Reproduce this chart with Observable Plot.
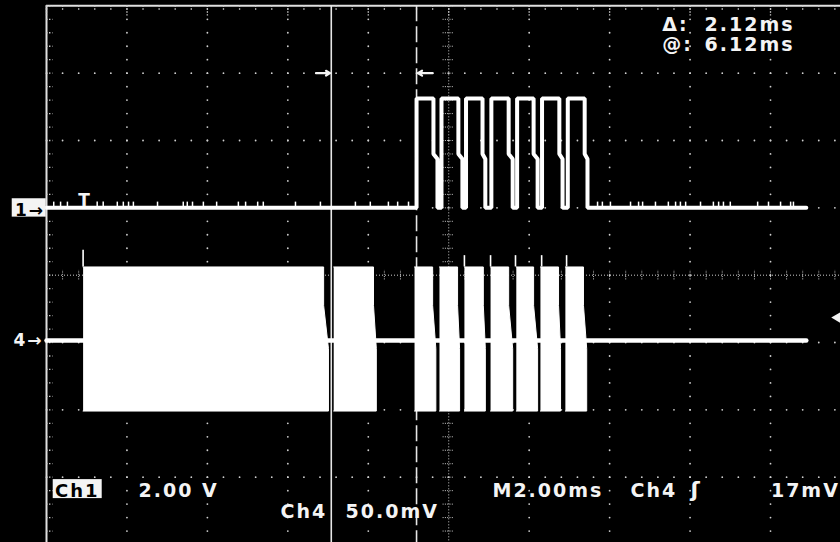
<!DOCTYPE html>
<html><head><meta charset="utf-8">
<script src="https://cdn.jsdelivr.net/npm/d3@7"></script>
<script src="https://cdn.jsdelivr.net/npm/@observablehq/plot@0.6"></script>
<style>
html,body{margin:0;padding:0;background:#000;}
#chart svg text{letter-spacing:2px;}
</style></head><body><div id="chart"></div>
<script>
// ---- scope settings (from the on-screen readouts) ----
const ch1VoltsPerDiv = 2;        // "Ch1 2.00 V"
const ch4MilliVoltsPerDiv = 50;  // "Ch4 50.0mV"
const timePerDiv = 2;            // "M2.00ms"
const ch1OffsetDiv = 1;          // ground marker "1→"
const ch4OffsetDiv = -0.97;      // ground marker "4→"
const triggerLevel = 17;         // mV, "Ch4 ʃ 17mV"
const screenStart = -0.96;       // ms, left edge of screen relative to trigger
const screenEnd = 18.78;         // ms, right edge of the picture
const recordEnd = 17.93;         // ms, end of captured record

// ---- cursors ----
const cursorA = 6.12;            // "@: 6.12ms"
const cursorDelta = 2.12;        // "Δ: 2.12ms"

// ---- Ch1: digital pulses (ms, V) ----
const ch1Rise       = [8.24, 8.86, 9.47, 10.10, 10.74, 11.36, 12.00];
const ch1FallTop    = [8.66, 9.28, 9.88, 10.53, 11.15, 11.79, 12.42];
const ch1FallBottom = [8.76, 9.38, 9.95, 10.63, 11.25, 11.87, 12.49];
const ch1High = 3.25;
const ch1KneeHigh = 1.6;
const ch1KneeLow = 1.45;
// small noise ticks on the Ch1 low level (ms)
const ch1Glitches = [-0.78, -0.61, -0.44, 0.30, 0.45, 0.80, 0.95, 1.08, 1.20, 1.80, 2.44, 2.54, 2.67,
  2.94, 3.27, 3.81, 3.99, 4.29, 4.43, 5.23, 5.85, 6.72, 7.09, 7.54, 7.77, 8.04,
  12.74, 12.86, 13.06, 13.56, 13.76, 13.86, 14.18, 14.50, 14.68, 14.80, 14.93, 15.30, 15.62,
  15.75, 15.87, 16.04, 16.72, 16.99, 17.29, 17.54, 17.61];
const ch1GlitchHeight = 0.17;    // V

// ---- Ch4: RF bursts (ms, mV) ----
const ch4BurstStart     = [-0.05, 6.18, 8.19, 8.81, 9.43, 10.08, 10.72, 11.32, 11.94];
const ch4BurstEndTop    = [5.93, 7.17, 8.64, 9.26, 9.90, 10.53, 11.15, 11.77, 12.39];
const ch4BurstEndBottom = [6.05, 7.24, 8.72, 9.31, 9.95, 10.63, 11.25, 11.82, 12.47];
const ch4Top = 54.6;
const ch4Bottom = -52.4;
const ch4KneeTop = 26;
const ch4KneeBottom = -6;
const ch4SpikeTime = [-0.05, 9.43, 10.08, 10.70, 11.35, 11.97];
const ch4SpikePeak = [67, 63, 63, 63, 63, 63];

// ---- readout texts ----
const deltaLabel = "Δ:", deltaValue = "2.12ms";
const atLabel = "@:", atValue = "6.12ms";
const ch1Name = "Ch1", ch1Scale = "2.00 V";
const ch4Name = "Ch4", ch4Scale = "50.0mV";
const timebase = "M2.00ms", trigSource = "Ch4", trigSlope = "ʃ", trigLevelText = "17mV";
const ch1Marker = "1→", ch4Marker = "4→", trigMarker = "T";

// ---- derived tables ----
const y1 = v => ch1OffsetDiv + v / ch1VoltsPerDiv;
const y4 = mv => ch4OffsetDiv + mv / ch4MilliVoltsPerDiv;
const cursorB = cursorA + cursorDelta;

const ch1Trace = [{t: screenStart, v: 0}];
ch1Rise.forEach((r, i) => {
  ch1Trace.push(
    {t: r, v: 0}, {t: r, v: ch1High},
    {t: ch1FallTop[i], v: ch1High}, {t: ch1FallTop[i], v: ch1KneeHigh},
    {t: ch1FallBottom[i], v: ch1KneeLow}, {t: ch1FallBottom[i], v: 0});
});
ch1Trace.push({t: recordEnd, v: 0});

const ch4Polys = ch4BurstStart.flatMap((s, i) => [
  {id: i, t: s, mv: ch4Top},
  {id: i, t: ch4BurstEndTop[i], mv: ch4Top},
  {id: i, t: ch4BurstEndTop[i], mv: ch4KneeTop},
  {id: i, t: ch4BurstEndBottom[i], mv: ch4KneeBottom},
  {id: i, t: ch4BurstEndBottom[i], mv: ch4Bottom},
  {id: i, t: s, mv: ch4Bottom}
]);
const ch4Baseline = [{t: screenStart, mv: 0}, {t: recordEnd, mv: 0}];
const ch4Spikes = ch4SpikeTime.map((t, i) => ({t, peak: ch4SpikePeak[i]}));

// graticule
const majorX = d3.range(0, 11).map(k => screenStart + k * timePerDiv);
const centerX = majorX[5];
const minorX = d3.range(0, 51).map(k => screenStart + k * timePerDiv / 5);
const minorY = d3.range(-20, 21).map(k => k / 5);
const vDots = majorX.filter((x, k) => k !== 0 && k !== 5).flatMap(x => minorY.map(y => ({x, y})));
const hDots = [-4, -3, -2, -1, 1, 2, 3].flatMap(y => minorX.map(x => ({x, y})));

const grid = "#cfcfcf";
const fg = "#f4f4f4";
const txt = (s, x, y, o = {}) => Plot.text([s], {x: () => x, y: () => y, text: d => d,
  textAnchor: "start", lineAnchor: "bottom", fill: fg, fontSize: 19, fontWeight: "bold",
  fontFamily: "DejaVu Sans", ...o});

const plot = Plot.plot({
  width: 840, height: 542,
  marginLeft: 46, marginRight: 0, marginTop: 5.33, marginBottom: 0,
  x: {domain: [screenStart, screenEnd], axis: null},
  y: {domain: [-3.97, 4], axis: null},
  style: {background: "black", color: "white", fontFamily: "DejaVu Sans", overflow: "visible"},
  marks: [
    // graticule
    Plot.dot(vDots, {x: "x", y: "y", r: 0.9, fill: grid, stroke: null}),
    Plot.dot(hDots, {x: "x", y: "y", r: 0.9, fill: grid, stroke: null}),
    Plot.ruleX([centerX], {stroke: grid, strokeDasharray: "1,2", strokeWidth: 1}),
    Plot.ruleY([0], {stroke: grid, strokeDasharray: "1,2", strokeWidth: 1}),
    Plot.ruleY(minorY, {y: d => d, x1: centerX - 0.14, x2: centerX + 0.14, stroke: grid, strokeWidth: 1, strokeDasharray: "1,1.3"}),
    Plot.ruleX(minorX, {x: d => d, y1: -0.07, y2: 0.07, stroke: grid, strokeWidth: 1, strokeDasharray: "1,1.3"}),
    // borders and their ticks
    Plot.ruleX([screenStart], {stroke: "#e0e0e0", strokeWidth: 2}),
    Plot.ruleY([4], {stroke: "#e0e0e0", strokeWidth: 2}),
    Plot.ruleY(minorY, {y: d => d, x1: screenStart, x2: screenStart + 0.16, stroke: grid, strokeWidth: 1.3, strokeDasharray: "1.4,1.6"}),
    Plot.ruleX(minorX, {x: d => d, y1: 4, y2: 3.93, stroke: grid, strokeWidth: 1.3, strokeDasharray: "1.4,1.6"}),
    Plot.ruleX(majorX, {x: d => d, y1: 4, y2: 3.85, stroke: grid, strokeWidth: 1.3, strokeDasharray: "1.4,1.6"}),
    // cursors
    Plot.ruleX([cursorA], {stroke: "#e6e6e6", strokeWidth: 1.6}),
    Plot.ruleX([cursorB], {stroke: "#e6e6e6", strokeWidth: 1.6, strokeDasharray: "16,5"}),
    Plot.arrow([0], {x1: () => cursorA - 0.38, x2: () => cursorA - 0.03, y1: () => 3, y2: () => 3, stroke: fg, strokeWidth: 2.2, headLength: 8}),
    Plot.arrow([0], {x1: () => cursorB + 0.40, x2: () => cursorB + 0.03, y1: () => 3, y2: () => 3, stroke: fg, strokeWidth: 2.2, headLength: 8}),
    // Ch4 trace
    Plot.line(ch4Baseline, {x: "t", y: d => y4(d.mv), stroke: "white", strokeWidth: 4.5}),
    Plot.line(ch4Polys, {x: "t", y: d => y4(d.mv), z: "id", fill: "white", stroke: "white", strokeWidth: 1}),
    Plot.ruleX(ch4Spikes, {x: "t", y1: () => y4(ch4Top), y2: d => y4(d.peak), stroke: "white", strokeWidth: 1.6}),
    // Ch1 trace
    Plot.ruleX(ch1Glitches, {x: d => d, y1: () => y1(0), y2: () => y1(ch1GlitchHeight), stroke: "white", strokeWidth: 1.5}),
    Plot.line(ch1Trace, {x: "t", y: d => y1(d.v), stroke: "white", strokeWidth: 4, strokeLinejoin: "miter", curve: "linear"}),
    // markers
    Plot.text([trigMarker], {x: () => 0, y: () => y1(0) + 0.03, text: d => d, lineAnchor: "bottom", fill: fg, fontSize: 17, fontWeight: "bold", fontFamily: "DejaVu Sans"}),
    Plot.rect([0], {x1: () => -1.812, x2: () => -0.967, y1: () => 0.862, y2: () => 1.135, fill: fg}),
    txt(ch1Marker, -1.745, 0.885, {fill: "black", fontSize: 17}),
    txt(ch4Marker, -1.78, y4(0), {lineAnchor: "middle", fontSize: 17}),
    Plot.dot([triggerLevel], {x: () => screenEnd, y: d => y4(d), symbol: "triangle", rotate: -90, r: 5.3, fill: fg, stroke: null, dx: -1}),
    // readouts
    txt(deltaLabel, 14.347, 3.626),
    txt(deltaValue, 15.399, 3.626),
    txt(atLabel, 14.347, 3.328),
    txt(atValue, 15.399, 3.328),
    Plot.rect([0], {x1: () => -0.793, x2: () => 0.425, y1: () => -3.036, y2: () => -3.318, fill: fg}),
    txt(ch1Name, -0.75, -3.29, {fill: "black", fontSize: 18}),
    txt(ch1Scale, 1.328, -3.288),
    txt(timebase, 10.128, -3.288),
    txt(trigSource, 13.559, -3.288),
    txt(trigSlope, 15.05, -3.288, {fontSize: 22}),
    txt(trigLevelText, 17.05, -3.288),
    txt(ch4Name, 4.858, -3.600),
    txt(ch4Scale, 6.474, -3.600)
  ]
});
document.getElementById("chart").append(plot);
</script></body></html>
